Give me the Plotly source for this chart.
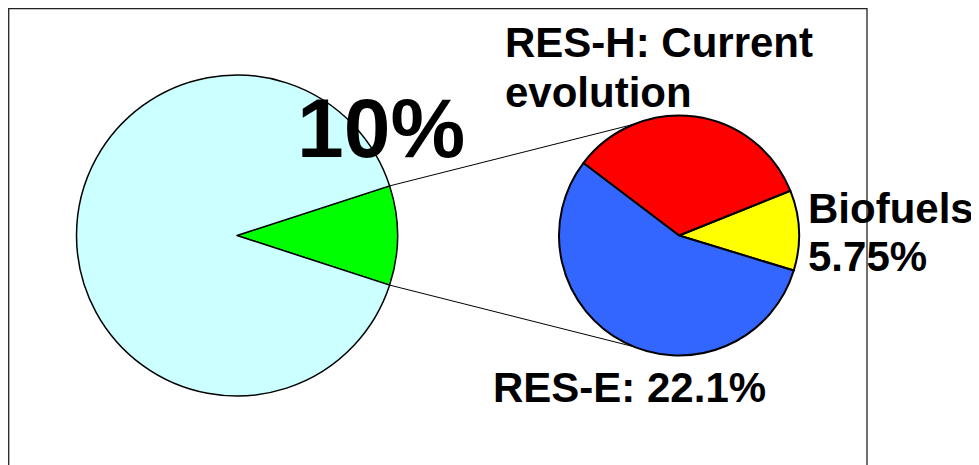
import math
import plotly.graph_objects as go

# page body has an 8px margin; the figure fills the rest of the 979x465 window
OX, OY = 8, 8
W, H = 979 - OX, 465 - OY

# ---- data ----
main_labels = ["RES share", "Other"]
main_values = [10, 90]
main_colors = ["#00FF00", "#CCFFFF"]

sub_labels = ["Biofuels", "RES-H", "RES-E"]
sub_values = [10.8, 33.6, 55.6]
sub_colors = ["#FFFF00", "#FF0000", "#3366FF"]

big_label = "10%"
label_lines = ["RES-H: Current", "evolution", "Biofuels", "5.75%", "RES-E: 22.1%"]

# ---- geometry (window pixels) ----
big_c = (237.0, 235.5); big_r = 160.5
sub_c = (679.0, 235.5); sub_r = 120.0


def px(x):
    return (x - OX) / W


def py(y):
    return 1 - (y - OY) / H


def dom(c, r):
    return dict(x=[px(c[0] - r), px(c[0] + r)], y=[py(c[1] + r), py(c[1] - r)])


half_angle = main_values[0] / sum(main_values) * 180.0

fig = go.Figure()
fig.add_trace(go.Pie(
    labels=main_labels, values=main_values, sort=False, direction="counterclockwise",
    rotation=90 - half_angle, textinfo="none", hoverinfo="skip",
    marker=dict(colors=main_colors, line=dict(color="black", width=1.5)),
    domain=dom(big_c, big_r), showlegend=False))

sub_end_angle = 21.9  # math angle where the first (yellow) slice ends
fig.add_trace(go.Pie(
    labels=sub_labels, values=sub_values, sort=False, direction="counterclockwise",
    rotation=90 - sub_end_angle, textinfo="none", hoverinfo="skip",
    marker=dict(colors=sub_colors, line=dict(color="black", width=2)),
    domain=dom(sub_c, sub_r), showlegend=False))

shapes = []
conn_sub_angle = 112.0
for s in (1, -1):
    a = math.radians(half_angle) * s
    x0 = big_c[0] + big_r * math.cos(a)
    y0 = big_c[1] - big_r * math.sin(a)
    b = math.radians(conn_sub_angle) * s
    x1 = sub_c[0] + sub_r * math.cos(b)
    y1 = sub_c[1] - sub_r * math.sin(b)
    shapes.append(dict(type="line", xref="paper", yref="paper",
                       x0=px(x0), y0=py(y0), x1=px(x1), y1=py(y1),
                       line=dict(color="black", width=1)))
# frame
shapes.append(dict(type="rect", xref="paper", yref="paper",
                   x0=px(8.7), y0=py(480), x1=px(867), y1=py(8.7),
                   line=dict(color="#222222", width=1.3), layer="above"))

font = "Liberation Sans, Arial, sans-serif"
ann = []
ann_pos = [(503, 42.5, 42), (503, 92.5, 42), (806, 208.5, 42), (806, 256.0, 42), (491, 387.5, 42)]
for t, (x, y, s) in zip(label_lines, ann_pos):
    ann.append(dict(text="<b>%s</b>" % t, x=px(x), y=py(y), xref="paper", yref="paper",
                    xanchor="left", yanchor="middle", showarrow=False,
                    font=dict(family=font, size=s, color="black")))
ann.append(dict(text="<b>%s</b>" % big_label, x=px(295), y=py(128.0), xref="paper", yref="paper",
                xanchor="left", yanchor="middle", showarrow=False,
                font=dict(family=font, size=84, color="black")))

fig.update_layout(width=W, height=H, margin=dict(l=0, r=0, t=0, b=0),
                  paper_bgcolor="white", plot_bgcolor="white",
                  shapes=shapes, annotations=ann)
fig.write_html("out.html")
